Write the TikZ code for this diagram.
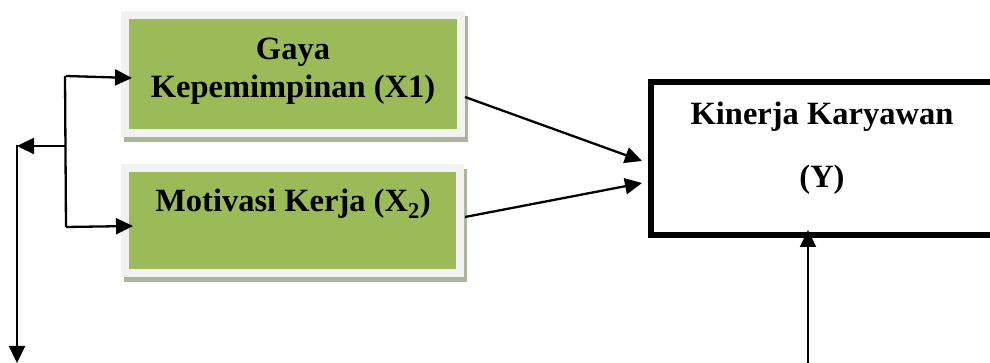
\documentclass[tikz,border=0pt]{standalone}
\usepackage{fontspec}
\setmainfont{Liberation Serif}
\usetikzlibrary{arrows.meta,backgrounds}
\definecolor{boxgreen}{HTML}{9BBB59}
\definecolor{boxrim}{HTML}{F2F2F2}
\definecolor{shadowc}{RGB}{172,182,154}
\tikzset{
  varbox/.style={draw=boxrim, line width=8pt, fill=boxgreen, outer sep=0pt, inner sep=0pt},
  outbox/.style={draw=black, line width=6pt, fill=white, outer sep=0pt, inner sep=0pt},
  lbl/.style={font=\bfseries\fontsize{32.5}{38}\selectfont, inner sep=0pt, anchor=base, align=center},
  conn/.style={line width=2.3pt},
  arr/.style={line width=2.3pt, -{Triangle[length=17pt,width=16pt]}}
}
\begin{document}
\begin{tikzpicture}[x=1pt,y=1pt]
\useasboundingbox (0,0) rectangle (990,363);
\clip (0,0) rectangle (990,363);
% boxes
\node[varbox, minimum width=336pt, minimum height=118pt] (b1) at (293,289) {};
\node[varbox, minimum width=335pt, minimum height=105pt] (b2) at (292.5,142.5) {};
\begin{scope}[on background layer]
\fill[white] (0,0) rectangle (990,363);
\fill[shadowc] ([shift={(-1,-9)}]b1.south west) rectangle ([shift={(7,-1)}]b1.north east);
\fill[shadowc] ([shift={(-1,-9)}]b2.south west) rectangle ([shift={(7,-1)}]b2.north east);
\end{scope}
\node[outbox, minimum width=349pt, minimum height=153pt] (k) at (825.5,204.5) {};
% texts
\node[lbl] (t1) at (293,303) {Gaya};
\node[lbl] (t1b) at (293,265) {Kepemimpinan (X1)};
\node[lbl] (t2) at (293,151) {Motivasi Kerja (X\textsubscript{2})};
\node[lbl] (t3) at (822,238) {Kinerja Karyawan};
\node[lbl] (t4) at (822,175) {(Y)};
% connector coordinates
\coordinate (jt) at (66,287);
\coordinate (jb) at (66,136);
\coordinate (jm) at (66,217);
\coordinate (lc) at (17,217);
\coordinate (ld) at (17,0);
\coordinate (ub) at (808,-2);
% arrows to Y
\draw[arr] ([shift={(4,-23)}]b1.east) -- ([shift={(-9,-2.5)}]k.west);
\draw[arr] ([shift={(5,3.5)}]b2.east) -- ([shift={(-9,-24.5)}]k.west);
% left bracket
\draw[conn] ([xshift=-1pt]jt) -- (jb);
\draw[arr] (jt) -- ([shift={(7,-4)}]b1.west);
\draw[arr] (jb) -- ([shift={(8,-5.5)}]b2.west);
\draw[arr] (jm) -- (lc);
\draw[arr] ([yshift=1pt]lc) -- (ld);
% bottom arrow
\draw[arr] (ub) -- ([shift={(-17.5,5)}]k.south);
\end{tikzpicture}
\end{document}
